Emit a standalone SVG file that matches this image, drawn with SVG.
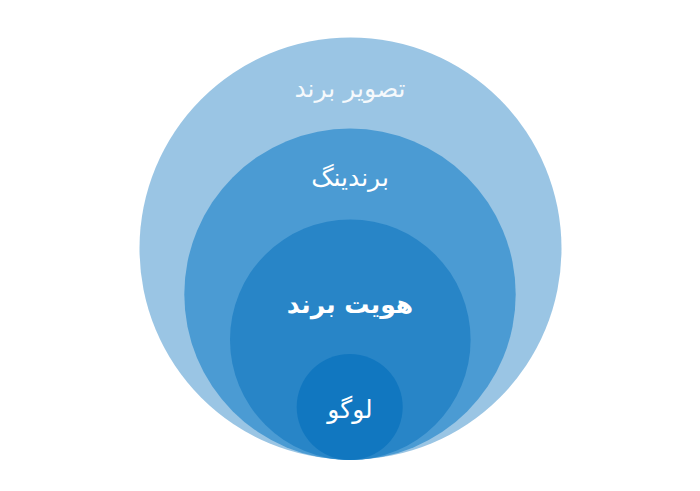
<svg xmlns="http://www.w3.org/2000/svg" width="700" height="491" viewBox="0 0 700 491">
<style>
.t{font-family:"DejaVu Sans","Noto Sans",sans-serif;fill:#ffffff;text-anchor:middle;direction:rtl}
</style>
<rect width="700" height="491" fill="#ffffff"/>
<g id="brand-image">
<circle cx="350.5" cy="248.5" r="211" fill="#9ac5e4"/>
<text class="t" x="350" y="97" font-size="25" opacity="0.9">تصویر برند</text>
</g>
<g id="branding">
<circle cx="350" cy="294.3" r="165.7" fill="#4b9bd3"/>
<text class="t" x="350" y="186" font-size="25">برندینگ</text>
</g>
<g id="brand-identity">
<circle cx="350.3" cy="339.7" r="120.3" fill="#2885c7"/>
<text class="t" x="350" y="313" font-size="25" font-weight="bold">هویت برند</text>
</g>
<g id="logo">
<circle cx="349.7" cy="407" r="53" fill="#1177c0"/>
<text class="t" x="350" y="418" font-size="25">لوگو</text>
</g>
<g id="connectors"/>
</svg>
